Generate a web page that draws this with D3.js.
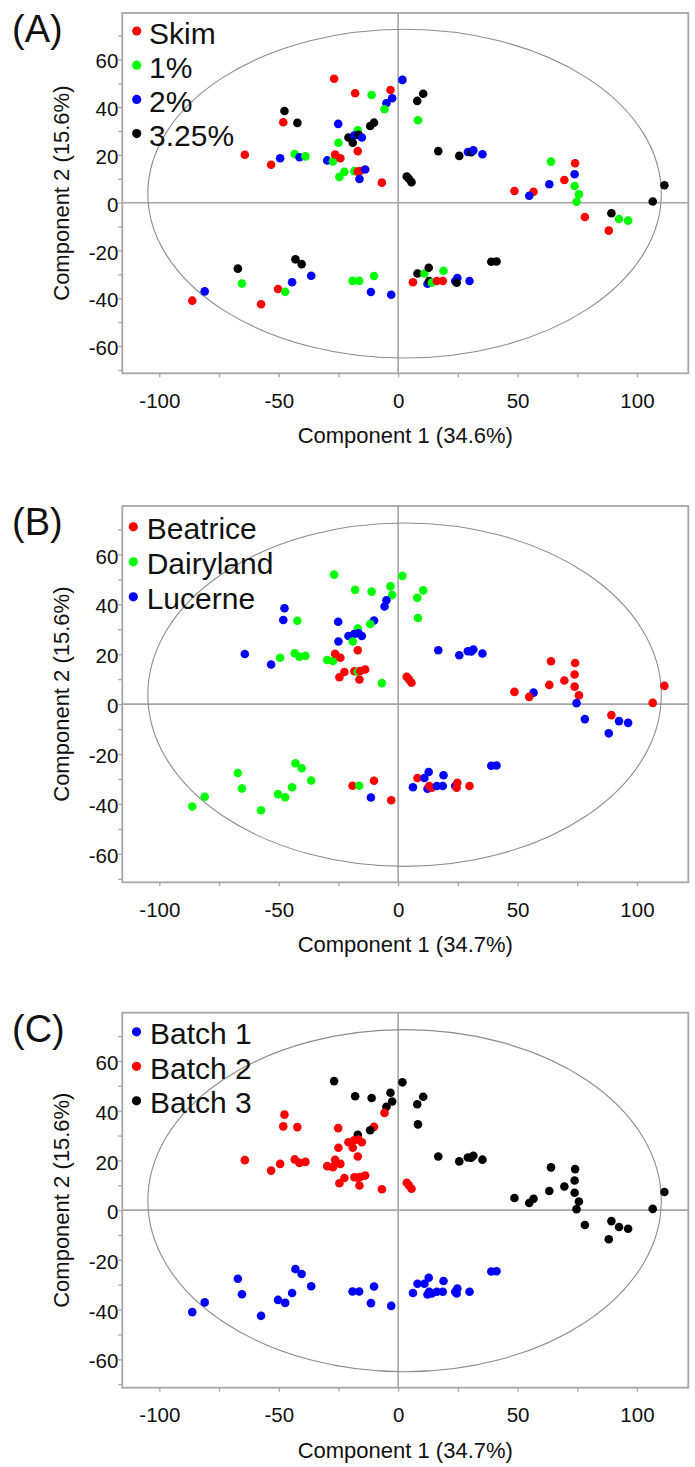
<!DOCTYPE html>
<html><head><meta charset="utf-8">
<script src="https://cdn.jsdelivr.net/npm/d3@7"></script>
<style>
body{margin:0;background:#fff}
text{font-family:"Liberation Sans",Arial,sans-serif;fill:#111}
</style>
</head><body>
<svg id="chart" width="695" height="1467"></svg>
<script>
// PCA scores (Component 1, Component 2) for each sample
const pcX = [-26.8,-47.6,-48.1,-42.2,-25.1,-64.2,-53.2,-49.4,-43.3,-41.3,-38.8,-29.7,-27.3,-26.4,-24.2,-25.0,-20.8,-22.5,-24.6,1.8,-18.0,-11.1,-3.2,-2.5,-4.9,-5.7,10.5,8.0,8.3,-10.1,-11.7,-16.9,-18.4,-16.6,-15.2,-19.0,-16.9,-18.3,-16.9,-15.9,-13.8,-16.2,-6.8,3.6,4.5,5.6,
  16.8,25.6,29.2,30.6,31.5,35.3,
  64.0,74.1,73.9,69.6,63.3,73.9,75.7,74.7,48.7,56.7,54.9,111.5,106.6,78.2,89.3,92.5,96.3,88.2,
  -86.2,-81.0,-67.1,-65.4,-57.4,-50.3,-47.3,-44.4,-43.0,-40.4,-36.4,-19.1,-16.3,-10.1,-11.4,-2.9,6.2,8.1,11.0,12.8,12.3,13.0,14.1,16.2,18.7,19.0,23.9,24.8,24.5,29.9,39.0,41.2];
const pcY = [51.9,38.4,33.7,33.4,33.0,20.1,15.9,18.6,20.4,19.0,19.4,17.7,17.3,20.2,18.6,25.1,27.3,12.9,10.8,51.4,45.8,45.1,47.2,43.7,41.6,39.1,45.6,42.6,34.5,33.5,32.1,30.3,28.1,28.4,27.3,25.1,21.6,13.2,13.0,13.3,13.9,9.9,8.4,11.0,10.0,8.6,
  21.6,19.6,21.2,21.1,21.9,20.3,
  17.2,16.5,11.9,9.5,7.7,7.0,3.5,0.4,4.9,4.6,2.9,7.3,0.5,-6.0,-4.4,-6.8,-7.5,-11.7,
  -41.0,-37.1,-27.6,-33.8,-42.5,-36.1,-37.3,-33.3,-23.7,-25.7,-30.6,-32.7,-32.7,-30.7,-37.4,-38.5,-33.3,-29.6,-29.6,-27.2,-33.9,-32.8,-33.5,-32.8,-32.8,-28.5,-32.8,-31.5,-33.5,-32.8,-24.7,-24.6];

// group membership (index into the label lists)
const fatIdx = [0,3,0,3,2,0,0,2,1,2, 1,2,1,0,0,1,3,1,1,2, 0,1,0,2,2,1,3,3,1,3, 3,1,2,3,2,3,0,1,0,0, 2,2,0,3,3,3,
  3,3,2,3,2,2,
  1,0,2,0,2,1,1,1,0,0,2,3,3,0,3,1,1,0,
  0,2,3,1,0,0,1,2,3,3, 2,1,1,1,2,2,0,3,1,3, 2,3,1,0,0,1,2,2,3,2, 3,3];
const brandIdx = [1,2,2,1,2,2,2,1,1,1, 1,1,1,0,0,2,2,0,0,1, 1,1,1,1,2,2,1,1,1,2, 1,1,2,2,2,1,0,0,1,0, 0,0,1,0,0,0,
  2,2,2,2,2,2,
  0,0,0,0,0,0,0,2,0,2,0,0,0,2,0,2,2,2,
  1,1,1,1,1,1,1,1,1,1,1, 0,1,0,2,0,2,0,2,2,2,0,0,2,2,2,2,0,0,0,2,2];
const batchIdx = [2,1,1,1,1,1,1,1,1,1, 1,1,1,1,1,1,1,1,1,2, 2,2,2,2,2,1,2,2,2,1, 2,2,1,1,1,1,1,1,1,1, 1,1,1,1,1,1,
  2,2,2,2,2,2,
  2,2,2,2,2,2,2,2,2,2,2,2,2,2,2,2,2,2,
  0,0,0,0,0,0,0,0,0,0,0,0,0,0,0,0,0,0,0,0,0,0,0,0,0,0,0,0,0,0,0,0];

const fatLabels = ["Skim","1%","2%","3.25%"];
const fatColors = ["#ff0000","#00ff00","#0000ff","#000000"];
const brandLabels = ["Beatrice","Dairyland","Lucerne"];
const brandColors = ["#ff0000","#00ff00","#0000ff"];
const batchLabels = ["Batch 1","Batch 2","Batch 3"];
const batchColors = ["#0000ff","#ff0000","#000000"];

const panelLetters = ["(A)","(B)","(C)"];
const xTitles = ["Component 1 (34.6%)","Component 1 (34.7%)","Component 1 (34.7%)"];
const yTitle = "Component 2 (15.6%)";

// 95% confidence ellipse (centre and semi-axes, score units)
const ellipseC = [2.7, 3.8];
const ellipseR = [107.5, 68.8];

const xDomain = [-115.5, 121.5];
const yDomain = [-71.4, 79.4];
const xMajor = [-100,-50,0,50,100];
const yMajor = [-60,-40,-20,0,20,40,60];

const svg = d3.select("#chart");
const frameL = 122.3, frameR = 688.3;
const panels = [
  {top:13, bottom:373.3, groups:fatIdx, labels:fatLabels, colors:fatColors, legY:43.5, legStep:34.2, legDotX:136.7, legTextX:149},
  {top:506, bottom:882.3, groups:brandIdx, labels:brandLabels, colors:brandColors, legY:539.3, legStep:35, legDotX:133.3, legTextX:146.7},
  {top:1012.7, bottom:1387.7, groups:batchIdx, labels:batchLabels, colors:batchColors, legY:1044.3, legStep:34.5, legDotX:136.5, legTextX:150}
];
const grey = "#a6a6a6";

panels.forEach((p, pi) => {
  const x = d3.scaleLinear().domain(xDomain).range([frameL, frameR]);
  const y = d3.scaleLinear().domain(yDomain).range([p.bottom, p.top]);
  const g = svg.append("g");

  // zero lines
  g.append("line").attr("x1", frameL).attr("x2", frameR).attr("y1", y(0)).attr("y2", y(0))
    .attr("stroke", grey).attr("stroke-width", 1.6);
  g.append("line").attr("x1", x(0)).attr("x2", x(0)).attr("y1", p.top).attr("y2", p.bottom)
    .attr("stroke", grey).attr("stroke-width", 1.6);

  // ellipse
  g.append("ellipse")
    .attr("cx", x(ellipseC[0])).attr("cy", y(ellipseC[1]))
    .attr("rx", x(ellipseC[0] + ellipseR[0]) - x(ellipseC[0]))
    .attr("ry", y(ellipseC[1]) - y(ellipseC[1] + ellipseR[1]))
    .attr("fill", "none").attr("stroke", "#8c8c8c").attr("stroke-width", 1.1);

  // axes
  const ya = d3.axisLeft(y).tickValues(d3.range(-70, 71, 10))
    .tickFormat(d => yMajor.includes(d) ? String(d) : "").tickSize(4).tickPadding(0);
  const yg = g.append("g").attr("transform", `translate(${frameL},0)`).call(ya);
  const xa = d3.axisBottom(x).tickValues(d3.range(-100, 101, 25))
    .tickFormat(d => xMajor.includes(d) ? String(d) : "").tickSize(4).tickPadding(16);
  const xg = g.append("g").attr("transform", `translate(0,${p.bottom})`).call(xa);
  [yg, xg].forEach(a => {
    a.select(".domain").remove();
    a.selectAll(".tick line").attr("stroke", grey).attr("stroke-width", 1.3);
    a.selectAll(".tick text").attr("font-size", 20.5).attr("fill", "#111")
      .style("font-family", '"Liberation Sans",Arial,sans-serif');
  });
  yg.selectAll(".tick text").attr("dy", "0.42em");

  // frame
  g.append("rect").attr("x", frameL).attr("y", p.top)
    .attr("width", frameR - frameL).attr("height", p.bottom - p.top)
    .attr("fill", "none").attr("stroke", grey).attr("stroke-width", 1.8);

  // points
  g.append("g").selectAll("circle").data(d3.range(pcX.length)).join("circle")
    .attr("cx", i => x(pcX[i])).attr("cy", i => y(pcY[i])).attr("r", 4.3)
    .attr("fill", i => p.colors[p.groups[i]]);

  // legend
  const lg = g.append("g");
  p.labels.forEach((lab, li) => {
    const by = p.legY + li * p.legStep;
    lg.append("circle").attr("cx", p.legDotX).attr("cy", by - 12.5).attr("r", 4.6).attr("fill", p.colors[li]);
    lg.append("text").attr("x", p.legTextX).attr("y", by).attr("font-size", 30).text(lab);
  });

  // titles
  g.append("text").attr("x", (frameL + frameR) / 2).attr("y", p.bottom + 70)
    .attr("text-anchor", "middle").attr("font-size", 22).text(xTitles[pi]);
  g.append("text").attr("transform", `translate(69,${(p.top + p.bottom) / 2}) rotate(-90)`)
    .attr("text-anchor", "middle").attr("font-size", 22).text(yTitle);

  // panel letter
  g.append("text").attr("x", 12).attr("y", p.top + 29).attr("font-size", 38).text(panelLetters[pi]);
});
</script>
</body></html>
